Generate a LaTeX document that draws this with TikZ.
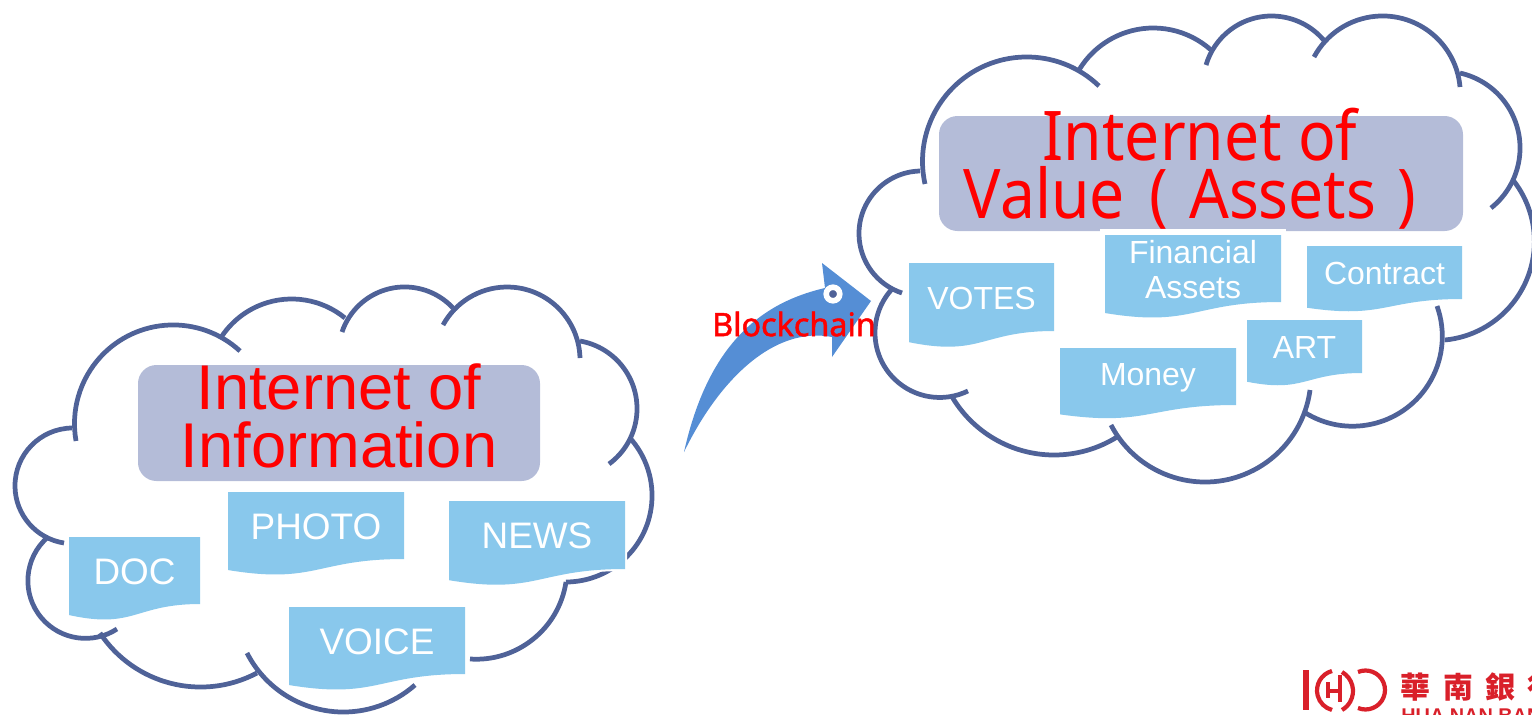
\documentclass[tikz,border=0pt]{standalone}
\usepackage{fontspec}
\setmainfont{Liberation Sans}
\newfontfamily\notofont[FakeStretch=0.91]{Noto Sans}
\newfontfamily\chainfont[FakeBold=1.5]{Noto Sans}
\newfontfamily\cjkfont{Noto Sans CJK TC}
\definecolor{cloudblue}{HTML}{4F6298}
\definecolor{panelgrey}{HTML}{B4BCD8}
\definecolor{docblue}{HTML}{89C8EC}
\definecolor{arrowblue}{HTML}{558ED5}
\definecolor{logored}{HTML}{D9202A}
\tikzset{
  cloudline/.style={draw=cloudblue,line width=2.7pt},
  panel/.style={fill=panelgrey,draw=none,rounded corners=10.5pt},
  dochalo/.style={draw=white,line width=2.3pt},
  docshape/.style={fill=docblue},
  bigred/.style={text=red,inner sep=0pt,align=center},
  doclabel/.style={text=white,inner sep=0pt,align=center},
  logostroke/.style={draw=logored,line width=2.4pt},
  cjkmark/.style={text=logored,inner sep=0pt,font=\cjkfont\bfseries\fontsize{17pt}{17pt}\selectfont},
}
% circular arc through three points: style, x1,y1, x2,y2, x3,y3
\newcommand{\arcthru}[7]{%
  \pgfmathsetmacro{\pa}{(#4-#2)/100}
  \pgfmathsetmacro{\pb}{(#5-#3)/100}
  \pgfmathsetmacro{\pc}{(#6-#2)/100}
  \pgfmathsetmacro{\pd}{(#7-#3)/100}
  \pgfmathsetmacro{\pe}{\pa*\pa+\pb*\pb}
  \pgfmathsetmacro{\pf}{\pc*\pc+\pd*\pd}
  \pgfmathsetmacro{\pg}{2*(\pa*\pd-\pb*\pc)}
  \pgfmathsetmacro{\ux}{(\pd*\pe-\pb*\pf)/\pg}
  \pgfmathsetmacro{\uy}{(\pa*\pf-\pc*\pe)/\pg}
  \pgfmathsetmacro{\rr}{100*sqrt(\ux*\ux+\uy*\uy)}
  \pgfmathsetmacro{\aone}{atan2(-\uy,-\ux)}
  \pgfmathsetmacro{\athree}{atan2(\pd-\uy,\pc-\ux)}
  \pgfmathsetmacro{\athreefix}{\pg>0 ? (\athree<\aone ? \athree+360 : \athree) : (\athree>\aone ? \athree-360 : \athree)}
  \draw[#1] (#2,#3) arc[start angle=\aone,end angle=\athreefix,radius=\rr];
}
% name, x0, x1, top, right-bottom, font size, text
\newcommand{\docbox}[7]{%
  \pgfmathsetmacro{\hh}{(#5-#4)/0.802}
  \pgfmathsetmacro{\xm}{(#2+#3)/2}
  \pgfmathsetmacro{\yl}{#4+0.934*\hh}
  \pgfmathsetmacro{\yc}{#4+1.1075*\hh}
  \pgfmathsetmacro{\yt}{(#4+#5)/2+1}
  \path[dochalo] (#2,#4) -- (#3,#4) -- (#3,#5) .. controls (\xm,#5) and (\xm,\yc) .. (#2,\yl) -- cycle;
  \path[docshape] (#2,#4) -- (#3,#4) -- (#3,#5) .. controls (\xm,#5) and (\xm,\yc) .. (#2,\yl) -- cycle;
  \node[doclabel,font=\fontsize{#6}{20pt}\selectfont] (#1) at (\xm,\yt) {#7};
}
\begin{document}
\begin{tikzpicture}[x=0.02cm,y=-0.02cm]
\useasboundingbox (0,0) rectangle (1532,714);
% ---- left cloud
\arcthru{cloudline}{240}{351}{170}{325}{76}{441}
\arcthru{cloudline}{72}{428}{15}{487}{64}{543}
\arcthru{cloudline}{48}{537}{28}{577}{117}{629}
\arcthru{cloudline}{100}{633}{198}{687}{257}{673}
\arcthru{cloudline}{247}{653}{345}{712}{415}{685}
\arcthru{cloudline}{470}{659}{540}{633}{566}{582}
\arcthru{cloudline}{566}{582}{652}{493}{630}{438}
\arcthru{cloudline}{609}{464}{637}{410}{580}{341}
\arcthru{cloudline}{580}{358}{507}{287}{443}{325}
\arcthru{cloudline}{453}{308}{402}{287}{342}{332}
\arcthru{cloudline}{345}{318}{290}{299}{222}{336}
% ---- right cloud
\arcthru{cloudline}{1099}{86}{1024}{57}{925}{184}
\arcthru{cloudline}{920}{171}{859}{235}{902}{293}
\arcthru{cloudline}{893}{288}{889}{373}{968}{391}
\arcthru{cloudline}{951}{395}{1054}{455}{1117}{437}
\arcthru{cloudline}{1111}{425}{1204}{482}{1310}{390}
\arcthru{cloudline}{1304}{412}{1428}{385}{1437}{306}
\arcthru{cloudline}{1445}{340}{1532}{263}{1513}{180}
\arcthru{cloudline}{1491}{208}{1520}{150}{1460}{73}
\arcthru{cloudline}{1460}{87}{1385}{16}{1314}{57}
\arcthru{cloudline}{1326}{43}{1272}{16}{1206}{65}
\arcthru{cloudline}{1211}{50}{1152}{28}{1079}{70}
% ---- panels
\path[panel] (138,365) rectangle (540,481);
\path[panel] (939,116) rectangle (1463,231);
\fill[white] (1100,229) rectangle (1286,236);
% ---- documents, left
\docbox{doc}{69}{200}{537}{604}{21pt}{DOC}
\docbox{photo}{228}{404}{492}{559}{21pt}{PHOTO}
\docbox{news}{449}{625}{501}{569}{21pt}{NEWS}
\docbox{voice}{289}{465}{607}{674}{21pt}{VOICE}
% ---- documents, right
\docbox{votes}{909}{1054}{263}{331}{18.2pt}{VOTES}
\docbox{fin}{1105}{1281}{235}{302}{18.2pt}{Financial\\Assets}
\docbox{contract}{1307}{1462}{246}{299}{18.2pt}{Contract}
\docbox{money}{1060}{1236}{348}{405}{18.2pt}{Money}
\docbox{art}{1247}{1362}{320}{373}{18.2pt}{ART}
% ---- headline texts
\node[bigred,font=\fontsize{36pt}{33pt}\selectfont] (info) at (339,416) {Internet of\\Information};
\node[bigred,anchor=base,font=\notofont\fontsize{39pt}{33pt}\selectfont] (valueone) at (1200,160) {Internet of};
\node[bigred,anchor=base,font=\notofont\fontsize{39pt}{33pt}\selectfont] (valuetwo) at (1190,218) {Value\hspace{14pt}(\hspace{12pt}Assets\hspace{12pt})};
% ---- arrow
\coordinate (tailtip) at (684,452);
\coordinate (headup) at (822,263);
\coordinate (headtip) at (871,301);
\coordinate (headlow) at (832,357);
\coordinate (neckup) at (825,288);
\coordinate (necklow) at (832,337);
\fill[arrowblue] (tailtip) .. controls (708,345) and (760,303) .. (neckup) -- (headup) -- (headtip) -- (headlow) -- (necklow) .. controls (775,326) and (720,378) .. (tailtip) -- cycle;
\node[circle,fill=cloudblue,draw=white,line width=3.2pt,minimum size=7.7pt,inner sep=0pt] (eye) at (833,294) {};
\node[text=red,inner sep=0pt,font=\chainfont\fontsize{18.4pt}{20pt}\selectfont] (chain) at (794,324) {Blockchain};
% ---- logo
\draw[logostroke,line width=3pt] (1306,670) -- (1306,710);
\arcthru{logostroke}{1332}{671}{1317}{690}{1332}{710}
\arcthru{logostroke}{1342}{672}{1353}{690}{1342}{710}
\arcthru{logostroke}{1358}{672}{1385}{690}{1358}{708}
\draw[logostroke] (1328,682) -- (1328,698);
\draw[logostroke] (1340,675) -- (1340,702);
\draw[logostroke] (1328,691) -- (1340,691);
\node[cjkmark] (c1) at (1415,687) {華};
\node[cjkmark] (c2) at (1458,687) {南};
\node[cjkmark] (c3) at (1500,687) {銀};
\node[cjkmark] (c4) at (1542,687) {行};
\node[text=logored,inner sep=0pt,anchor=base west,font=\bfseries\fontsize{11.3pt}{12pt}\selectfont] (hn) at (1401,722) {HUA NAN BANK};
\end{tikzpicture}
\end{document}
